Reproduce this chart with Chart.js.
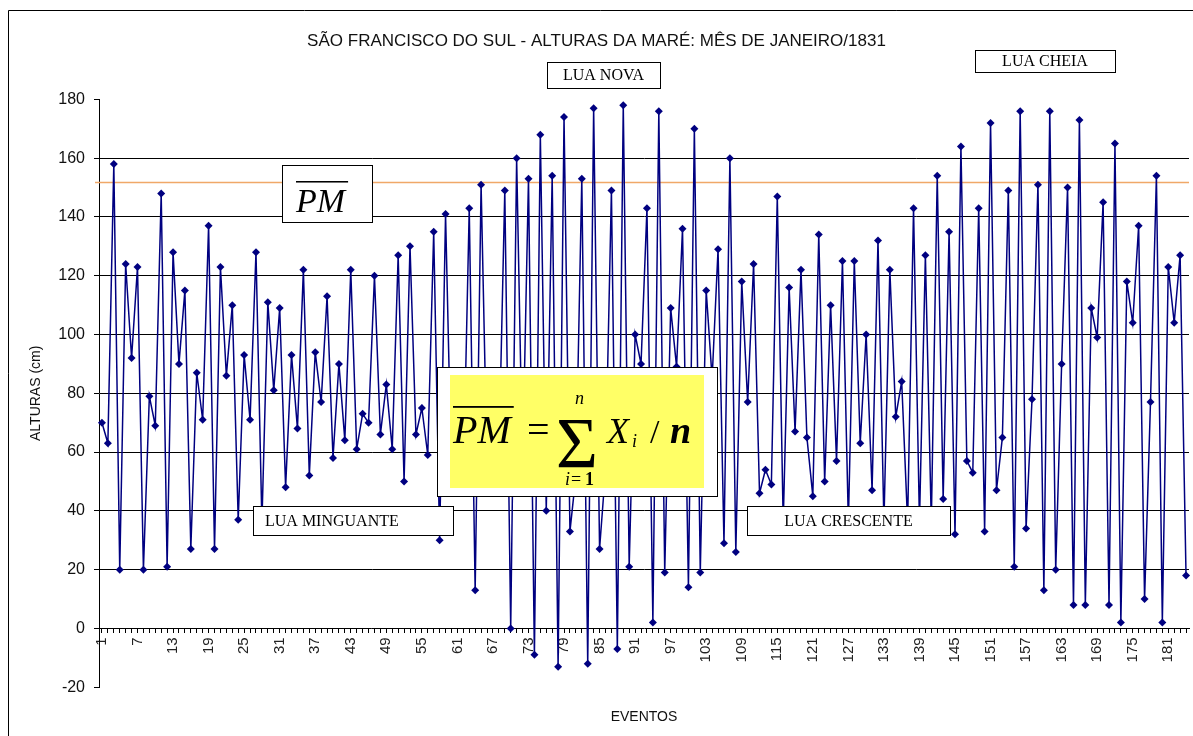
<!DOCTYPE html>
<html>
<head>
<meta charset="utf-8">
<script src="https://cdn.jsdelivr.net/npm/chart.js@4"></script>
<style>
  html, body { margin: 0; padding: 0; background: #fff; }
  canvas { display: block; }
</style>
</head>
<body>
<canvas id="mareChart" width="1193" height="736"></canvas>
<script>
// São Francisco do Sul - alturas da maré, janeiro/1831
// one value per event (cm)

const alturas = [
  70, 63, 158, 20, 124, 92, 123, 20, 79, 69,
  148, 21, 128, 90, 115, 27, 87, 71, 137, 27,
  123, 86, 110, 37, 93, 71, 128, 36, 111, 81,
  109, 48, 93, 68, 122, 52, 94, 77, 113, 58,
  90, 64, 122, 61, 73, 70, 120, 66, 83, 61,
  127, 50, 130, 66, 75, 59, 135, 30, 141, 52,
  84, 50, 143, 13, 151, 56, 86, 58, 149, 0,
  160, 55, 153, -9, 168, 40, 154, -13, 174, 33,
  52, 153, -12, 177, 27, 54, 149, -7, 178, 21,
  100, 90, 143, 2, 176, 19, 109, 89, 136, 14,
  170, 19, 115, 85, 129, 29, 160, 26, 118, 77,
  124, 46, 54, 49, 147, 36, 116, 67, 122, 65,
  45, 134, 50, 110, 57, 125, 36, 125, 63, 100,
  47, 132, 36, 122, 72, 84, 36, 143, 36, 127,
  36, 154, 44, 135, 32, 164, 57, 53, 143, 33,
  172, 47, 65, 149, 21, 176, 34, 78, 151, 13,
  176, 20, 90, 150, 8, 173, 8, 109, 99, 145,
  8, 165, 2, 118, 104, 137, 10, 77, 154, 2,
  123, 104, 127, 18,
];

// event numbers 1..n, every 6th one is printed
const eventos = alturas.map((v, i) => String(i + 1));
const passoRotulo = 6;

const yMin = -20;
const yMax = 180;
const yPasso = 20;

// mean of the high waters (orange line)
const mediaPM = 152;

const sans = "'Liberation Sans', Arial, sans-serif";
const serif = "'Liberation Serif', 'Times New Roman', serif";

function caixa(ctx, x, y, w, h, fill) {
  ctx.fillStyle = fill || "#fff";
  ctx.fillRect(x, y, w, h);
  ctx.strokeStyle = "#000";
  ctx.lineWidth = 1;
  ctx.strokeRect(x + 0.5, y + 0.5, w, h);
}

function rotulo(ctx, texto, x, y, w, h, alinhar) {
  caixa(ctx, x, y, w, h);
  ctx.fillStyle = "#000";
  ctx.font = "16px " + serif;
  ctx.textBaseline = "middle";
  if (alinhar === "left") {
    ctx.textAlign = "left";
    ctx.fillText(texto, x + 12, y + h / 2 + 1);
  } else {
    ctx.textAlign = "center";
    ctx.fillText(texto, x + w / 2, y + h / 2 + 1);
  }
}

// "PM" with a bar over it
function pmBarra(ctx, x, base, size) {
  ctx.fillStyle = "#000";
  ctx.font = "italic " + size + "px " + serif;
  ctx.textAlign = "left";
  ctx.textBaseline = "alphabetic";
  ctx.fillText("PM", x, base);
  const w = ctx.measureText("PM").width;
  ctx.fillRect(x, Math.round(base - size * 0.92), w + 3, Math.max(1.5, size / 22));
}

const moldura = {
  id: "moldura",
  beforeDraw(chart) {
    const ctx = chart.ctx;
    ctx.save();
    ctx.fillStyle = "#fff";
    ctx.fillRect(0, 0, chart.width, chart.height);
    ctx.strokeStyle = "#000";
    ctx.lineWidth = 1;
    ctx.beginPath();
    ctx.moveTo(8.5, chart.height);
    ctx.lineTo(8.5, 10.5);
    ctx.lineTo(chart.width, 10.5);
    ctx.stroke();
    ctx.restore();
  },
};

const linhaMedia = {
  id: "linhaMedia",
  beforeDatasetsDraw(chart) {
    const { ctx, chartArea, scales } = chart;
    const y = Math.round(scales.y.getPixelForValue(mediaPM)) + 0.5;
    ctx.save();
    ctx.strokeStyle = "#F0A868";
    ctx.lineWidth = 1.5;
    ctx.beginPath();
    ctx.moveTo(chartArea.left - 4, y);
    ctx.lineTo(chartArea.right, y);
    ctx.stroke();
    ctx.restore();
  },
};

const anotacoes = {
  id: "anotacoes",
  afterDatasetsDraw(chart) {
    const ctx = chart.ctx;
    ctx.save();

    rotulo(ctx, "LUA NOVA", 547, 62, 113, 26);
    rotulo(ctx, "LUA CHEIA", 975, 50, 140, 22);
    rotulo(ctx, "LUA MINGUANTE", 253, 506, 200, 29, "left");
    rotulo(ctx, "LUA CRESCENTE", 747, 506, 203, 29);

    // PM box
    caixa(ctx, 282, 165, 90, 57);
    pmBarra(ctx, 296, 212, 34);

    // formula box
    caixa(ctx, 437, 367, 280, 129);
    ctx.fillStyle = "#FFFF66";
    ctx.fillRect(450, 375, 254, 113);
    pmBarra(ctx, 453, 443, 40);
    ctx.fillStyle = "#000";
    ctx.textAlign = "left";
    ctx.textBaseline = "alphabetic";
    ctx.font = "40px " + serif;
    ctx.fillText("=", 527, 443);
    ctx.font = "72px " + serif;
    ctx.fillText("Σ", 556, 467);
    ctx.font = "italic 18px " + serif;
    ctx.fillText("n", 575, 404);
    ctx.font = "italic 18px " + serif;
    ctx.fillText("i", 565, 485);
    ctx.font = "18px " + serif;
    ctx.fillText("=", 571, 485);
    ctx.font = "bold 18px " + serif;
    ctx.fillText("1", 585, 485);
    ctx.font = "italic 36px " + serif;
    ctx.fillText("X", 607, 443);
    ctx.font = "italic 18px " + serif;
    ctx.fillText("i", 632, 447);
    ctx.font = "34px " + serif;
    ctx.fillText("/", 650, 443);
    ctx.font = "bold italic 38px " + serif;
    ctx.fillText("n", 670, 443);

    ctx.restore();
  },
};

const ctx = document.querySelector("#mareChart");

const config = {
  type: "line",
  data: {
    labels: eventos,
    datasets: [
      {
        label: "Alturas",
        data: alturas,
        borderColor: "#000080",
        borderWidth: 1.5,
        backgroundColor: "#000080",
        pointStyle: "rectRot",
        pointRadius: 4,
        pointBorderWidth: 0,
        pointBackgroundColor: "#000080",
        tension: 0,
        fill: false,
      },
    ],
  },
  options: {
    responsive: false,
    animation: false,
    devicePixelRatio: 1,
    layout: { padding: 0 },
    plugins: {
      legend: { display: false },
      tooltip: { enabled: false },
      title: {
        display: true,
        text: "SÃO FRANCISCO DO SUL - ALTURAS DA MARÉ: MÊS DE JANEIRO/1831",
        color: "#111",
        font: { family: sans, size: 17, weight: "normal" },
        padding: { top: 31, bottom: 48 },
      },
      subtitle: {
        display: true,
        position: "bottom",
        fullSize: false,
        text: "EVENTOS",
        color: "#111",
        font: { family: sans, size: 14, weight: "normal" },
        padding: { top: 22, bottom: 10 },
      },
    },
    scales: {
      x: {
        type: "category",
        position: { y: 0 },
        offset: true,
        afterFit: (s) => {
          s.paddingLeft = 0;
          s.paddingRight = 0;
        },
        border: { display: true, color: "#000", width: 1 },
        grid: {
          display: true,
          drawOnChartArea: false,
          drawTicks: true,
          tickLength: 4,
          tickColor: "#000",
        },
        ticks: {
          autoSkip: false,
          minRotation: 90,
          maxRotation: 90,
          padding: 5,
          color: "#222",
          font: { family: sans, size: 15 },
          callback: function (value, index) {
            return index % passoRotulo === 0 ? eventos[index] : "";
          },
        },
      },
      y: {
        min: yMin,
        max: yMax,
        afterFit: (s) => {
          s.width = 99;
        },
        border: { display: true, color: "#000", width: 1 },
        grid: {
          color: (c) =>
            c.tick && (c.tick.value === yMin || c.tick.value === yMax || c.tick.value === 0)
              ? "rgba(0,0,0,0)"
              : "#000",
          tickColor: "#000",
          tickLength: 5,
          lineWidth: 1,
        },
        ticks: {
          stepSize: yPasso,
          padding: 9,
          color: "#111",
          font: { family: sans, size: 16 },
        },
        title: {
          display: true,
          text: "ALTURAS (cm)",
          color: "#111",
          font: { family: sans, size: 14 },
          padding: { top: 28, bottom: 0 },
        },
      },
    },
  },
  plugins: [moldura, linhaMedia, anotacoes],
};

const chart = new Chart(ctx, config);
</script>
</body>
</html>
